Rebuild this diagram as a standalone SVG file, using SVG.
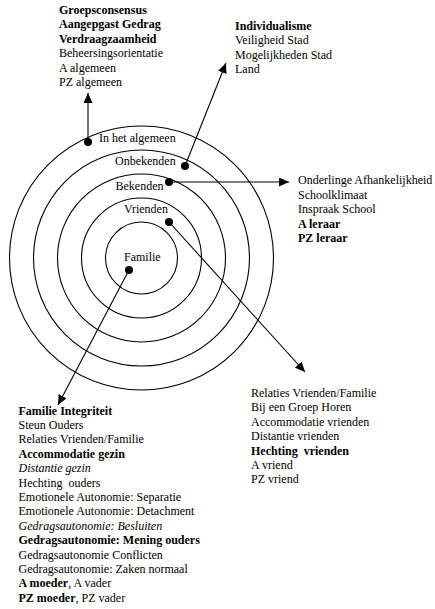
<svg xmlns="http://www.w3.org/2000/svg" width="435" height="609" viewBox="0 0 435 609">
<defs>
<marker id="ah" markerUnits="userSpaceOnUse" markerWidth="11" markerHeight="9" refX="10" refY="4.5" orient="auto">
<path d="M0,0 L10,4.5 L0,9 z" fill="#000"/>
</marker>
<style>
text{font-family:"Liberation Serif","Times New Roman",serif;font-size:12px;fill:#000;white-space:pre}
.b{font-weight:bold}
.i{font-style:italic}
.ring{fill:none;stroke:#000;stroke-width:1.1}
.con{stroke:#000;stroke-width:1.1;fill:none;marker-end:url(#ah)}
.dot{fill:#000}
</style>
</defs>
<rect width="435" height="609" fill="#fff"/>
<g id="rings">
<circle class="ring" cx="141.5" cy="258" r="132"/>
<circle class="ring" cx="141.5" cy="258" r="108"/>
<circle class="ring" cx="141.5" cy="258" r="84"/>
<circle class="ring" cx="141.5" cy="258" r="60"/>
<circle class="ring" cx="141.5" cy="258" r="36"/>
</g>
<g id="connectors">
<line class="con" x1="88" y1="142" x2="88" y2="93"/>
<line class="con" x1="185" y1="166" x2="226" y2="63"/>
<line class="con" x1="169" y1="182" x2="289" y2="182"/>
<line class="con" x1="169" y1="222" x2="305" y2="372"/>
<line class="con" x1="129" y1="270" x2="58" y2="405"/>
</g>
<g id="ring-algemeen"><circle class="dot" cx="88" cy="142" r="4"/><text x="99" y="141.5">In het algemeen</text></g>
<g id="ring-onbekenden"><circle class="dot" cx="185" cy="166" r="4"/><text x="115" y="165">Onbekenden</text></g>
<g id="ring-bekenden"><circle class="dot" cx="169" cy="182" r="4"/><text x="115.5" y="189.5">Bekenden</text></g>
<g id="ring-vrienden"><circle class="dot" cx="169" cy="222" r="4"/><text x="124" y="213">Vrienden</text></g>
<g id="ring-familie"><circle class="dot" cx="129" cy="270" r="4"/><text x="124" y="261">Familie</text></g>
<g id="list-algemeen">
<text x="59" y="13.5" class="b">Groepsconsensus</text>
<text x="59" y="28" class="b">Aangepgast Gedrag</text>
<text x="59" y="42.5" class="b">Verdraagzaamheid</text>
<text x="59" y="57">Beheersingsorientatie</text>
<text x="59" y="71.5">A algemeen</text>
<text x="59" y="86">PZ algemeen</text>
</g>
<g id="list-onbekenden">
<text x="235" y="29.5" class="b">Individualisme</text>
<text x="235" y="44">Veiligheid Stad</text>
<text x="235" y="58.5">Mogelijkheden Stad</text>
<text x="235" y="73">Land</text>
</g>
<g id="list-bekenden">
<text x="298" y="184">Onderlinge Afhankelijkheid</text>
<text x="298" y="198.5">Schoolklimaat</text>
<text x="298" y="213">Inspraak School</text>
<text x="298" y="227.5" class="b">A leraar</text>
<text x="298" y="242" class="b">PZ leraar</text>
</g>
<g id="list-vrienden">
<text x="251" y="397">Relaties Vrienden/Familie</text>
<text x="251" y="411.4">Bij een Groep Horen</text>
<text x="251" y="425.8">Accommodatie vrienden</text>
<text x="251" y="440.2">Distantie vrienden</text>
<text x="251" y="454.6" class="b">Hechting  vrienden</text>
<text x="251" y="469">A vriend</text>
<text x="251" y="483.4">PZ vriend</text>
</g>
<g id="list-familie">
<text x="18.5" y="414.5" class="b">Familie Integriteit</text>
<text x="18.5" y="428.9">Steun Ouders</text>
<text x="18.5" y="443.3">Relaties Vrienden/Familie</text>
<text x="18.5" y="457.7" class="b">Accommodatie gezin</text>
<text x="18.5" y="472.1" class="i">Distantie gezin</text>
<text x="18.5" y="486.5">Hechting  ouders</text>
<text x="18.5" y="500.9">Emotionele Autonomie: Separatie</text>
<text x="18.5" y="515.3">Emotionele Autonomie: Detachment</text>
<text x="18.5" y="529.7" class="i">Gedragsautonomie: Besluiten</text>
<text x="18.5" y="544.1" class="b">Gedragsautonomie: Mening ouders</text>
<text x="18.5" y="558.5">Gedragsautonomie Conflicten</text>
<text x="18.5" y="572.9">Gedragsautonomie: Zaken normaal</text>
<text x="18.5" y="587.3"><tspan class="b">A moeder</tspan>, A vader</text>
<text x="18.5" y="601.7"><tspan class="b">PZ moeder</tspan>, PZ vader</text>
</g>
</svg>
